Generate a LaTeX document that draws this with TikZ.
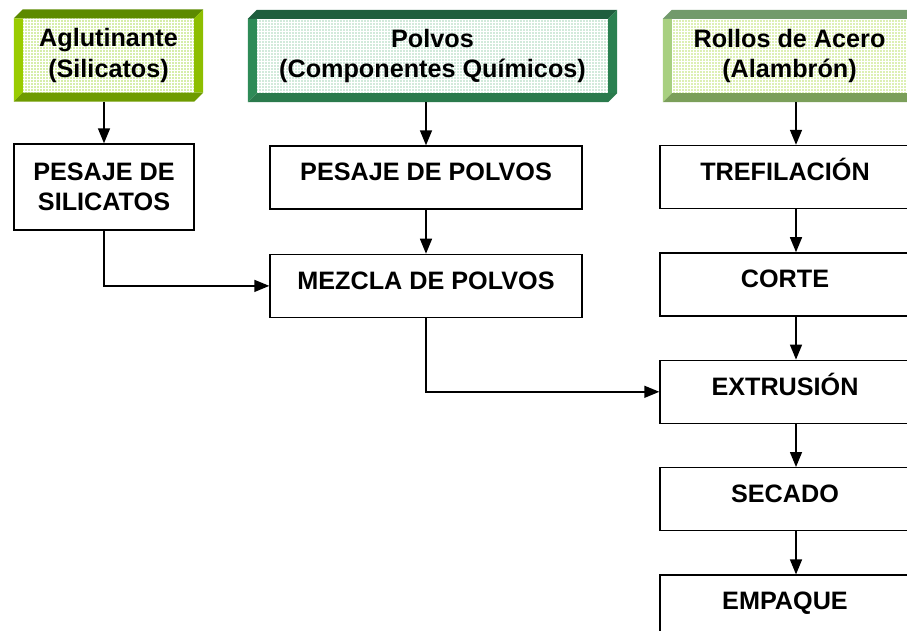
\documentclass[tikz,border=0pt]{standalone}
\usepackage{fontspec}
\setmainfont{Liberation Sans}
\usetikzlibrary{arrows.meta,calc,positioning,patterns,backgrounds}

\definecolor{aglT}{HTML}{5C8A00}
\definecolor{aglL}{HTML}{99CC00}
\definecolor{aglR}{HTML}{8DBE00}
\definecolor{aglB}{HTML}{6E9B00}
\definecolor{aglF}{HTML}{D6EEAA}
\definecolor{polT}{HTML}{1F5E3E}
\definecolor{polL}{HTML}{2E8B57}
\definecolor{polR}{HTML}{2A8050}
\definecolor{polB}{HTML}{2A7A4C}
\definecolor{polF}{HTML}{D2EADB}
\definecolor{rolT}{HTML}{729A6C}
\definecolor{rolL}{HTML}{A8D080}
\definecolor{rolR}{HTML}{A8D080}
\definecolor{rolB}{HTML}{7B9F5A}
\definecolor{rolF}{HTML}{DDF0B4}

\begin{document}
\begin{tikzpicture}[
    x=1pt, y=-1pt,
    font=\bfseries\fontsize{25.2}{30.5}\selectfont,
    node distance=43pt,
    src/.style={inner sep=0, align=center, minimum height=92pt},
    stepbox/.style={draw, line width=1.4pt, fill=white, inner sep=0, align=center},
    onerow/.style={text height=34.8pt, text depth=28.2pt},
    arr/.style={-{Triangle[length=15pt,width=12pt]}, line width=1.5pt},
  ]
    \useasboundingbox (0,0) rectangle (907,631);

    % Raw materials
    \node[src, minimum width=189pt] (aglut) at (108.5,55.5) {Aglutinante\\(Silicatos)};
    \node[src, minimum width=369pt] (polvos) at (432.5,56) {Polvos\\(Componentes Químicos)};
    \node[src, minimum width=253pt] (rollos) at (789.5,56) {Rollos de Acero\\(Alambrón)};

    % Bevelled frames behind the raw materials
    \begin{pgfonlayer}{background}
      \foreach \n/\col in {aglut/agl, polvos/pol, rollos/rol} {
        \fill[\col F] ([shift={(9pt,-9pt)}]\n.north west) rectangle ([shift={(-9pt,9pt)}]\n.south east);
        \fill[pattern=grid, pattern color=white] ([shift={(9pt,-9pt)}]\n.north west) rectangle ([shift={(-9pt,9pt)}]\n.south east);
        \fill[\col T] ([yshift=-9pt]\n.north west) -- ([xshift=9pt]\n.north west) -- (\n.north east)
          -- ([shift={(-9pt,-9pt)}]\n.north east) -- cycle;
        \fill[\col L] ([yshift=-9pt]\n.north west) -- ([shift={(9pt,-9pt)}]\n.north west)
          -- ([shift={(9pt,9pt)}]\n.south west) -- (\n.south west) -- cycle;
        \fill[\col R] (\n.north east) -- ([yshift=9pt]\n.south east)
          -- ([shift={(-9pt,9pt)}]\n.south east) -- ([shift={(-9pt,-9pt)}]\n.north east) -- cycle;
        \fill[\col B] (\n.south west) -- ([shift={(9pt,9pt)}]\n.south west)
          -- ([yshift=9pt]\n.south east) -- ([xshift=-9pt]\n.south east) -- cycle;
      }
    \end{pgfonlayer}

    % Left and middle column
    \node[stepbox, minimum width=180pt, minimum height=86pt] (silic) at (104,187) {PESAJE DE\\SILICATOS};
    \node[stepbox, onerow, minimum width=312pt] (pespol) at (426,177.5) {PESAJE DE POLVOS};
    \node[stepbox, onerow, minimum width=312pt, below=44pt of pespol] (mezcla) {MEZCLA DE POLVOS};

    % Right column
    \node[stepbox, onerow, minimum width=250pt] (trefila) at (785,177) {TREFILACIÓN};
    \node[stepbox, onerow, minimum width=250pt, below=of trefila] (corte) {CORTE};
    \node[stepbox, onerow, minimum width=250pt, below=of corte] (extrus) {EXTRUSIÓN};
    \node[stepbox, onerow, minimum width=250pt, below=of extrus] (secado) {SECADO};
    \node[stepbox, onerow, minimum width=250pt, below=of secado] (empaque) {EMPAQUE};

    % Arrows
    \coordinate (rx) at (796,0);
    \draw[arr] (aglut.south -| silic.north) -- (silic.north);
    \draw[arr] (polvos.south -| pespol.north) -- (pespol.north);
    \draw[arr] (pespol) -- (mezcla);
    \draw[arr] (silic.south) |- (mezcla.west);
    \draw[arr] (mezcla.south) |- (extrus.west);
    \draw[arr] (rollos.south -| rx) -- (trefila.north -| rx);
    \foreach \a/\b in {trefila/corte, corte/extrus, extrus/secado, secado/empaque}
      \draw[arr] (\a.south -| rx) -- (\b.north -| rx);
  \end{tikzpicture}
\end{document}
